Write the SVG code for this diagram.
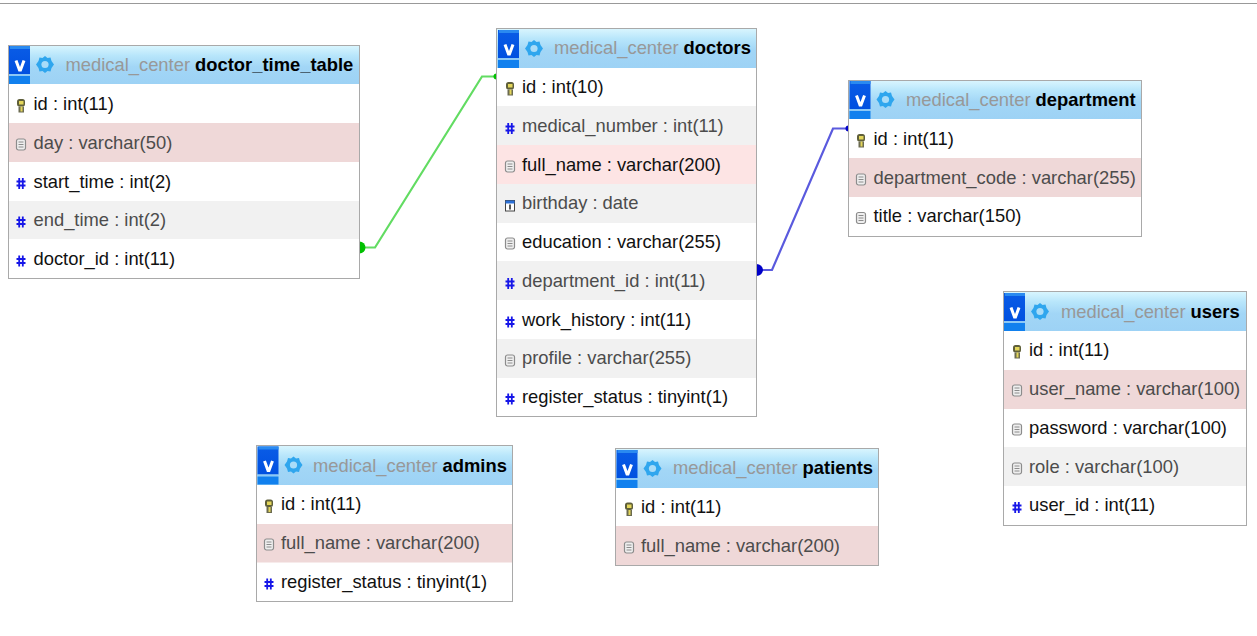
<svg xmlns="http://www.w3.org/2000/svg" width="1257" height="636" viewBox="0 0 1257 636">
<style>
text{font-family:"Liberation Sans",Arial,sans-serif;font-size:18.36px;fill:#111}
.box{fill:#fff;stroke:#a9a9a9;stroke-width:1}
.hd{fill:url(#hg)}
.db{fill:#989898}
.nm{font-weight:bold;fill:#000}
.dim{fill:#4c4c4c}
.pink{fill:#efd8d8}
.rose{fill:#fde4e4}
.grey{fill:#f1f1f1}
.lnk{fill:none;stroke-width:2.200}
</style>
<defs>
<linearGradient id="hg" x1="0" y1="0" x2="0" y2="1"><stop offset="0" stop-color="#d8f5fe"/><stop offset=".25" stop-color="#b8e6fb"/><stop offset=".55" stop-color="#a2d6f6"/><stop offset="1" stop-color="#9dd2f5"/></linearGradient>
<linearGradient id="vg" x1="0" y1="0" x2="0" y2="1"><stop offset="0" stop-color="#0a5ce6"/><stop offset="1" stop-color="#0050e0"/></linearGradient>
<g id="hicons">
<rect x="0" y="1" width="21" height="28" fill="url(#vg)"/>
<rect x="1" y="1" width="20" height="3" fill="#2a8af0"/>
<rect x="0" y="29" width="21" height="2" fill="#8cc8f5"/>
<rect x="0" y="31" width="21" height="8" fill="#1180ee"/>
<path d="M7 15.500l3.500 9.500h1l3.500-9.500" fill="none" stroke="#fff" stroke-width="3"/>
<polygon points="36,11 38.500,13 41.500,12.500 42.500,16 45,19.500 42.500,23 41.500,26.500 38.500,26 36,28 33.500,26 30.500,26.500 29.500,23 27,19.500 29.500,16 30.500,12.500 33.500,13" fill="#2fa6ee"/>
<circle cx="36" cy="19.500" r="3.600" fill="#a9dcf8"/>
</g>
<g id="key"><rect x="-4" y="-6.500" width="8" height="7.500" rx="2.500" fill="#5f5f3a"/><rect x="-2" y="-4.500" width="4.500" height="3.500" fill="#e3d65a"/><rect x="-2.500" y="1" width="5.500" height="6" fill="#6b6b50"/><rect x="-0.500" y="1" width="2" height="5" fill="#e3d65a"/></g>
<g id="txt"><rect x="-4.500" y="-5.500" width="9" height="11" rx="2" fill="#efefef" stroke="#8c8c8c" stroke-width="1.200"/><path d="M-2.500 -2.500h5M-2.500 0h5M-2.500 2.500h5" stroke="#8c8c8c" stroke-width="1"/></g>
<g id="num"><path d="M-4.500 -2h9M-4.500 2h9M-1.800 -5.500v11M1.800 -5.500v11" stroke="#1616e8" stroke-width="1.800" fill="none"/></g>
<g id="cal"><rect x="-4.500" y="-5" width="9" height="10.500" fill="#fff" stroke="#444" stroke-width="1"/><rect x="-4.500" y="-5" width="9" height="3" fill="#2b6fd6"/><path d="M0 -1v5" stroke="#222" stroke-width="1.500"/></g>
</defs>
<rect width="1257" height="636" fill="#fff"/>
<rect x="0" y="3" width="1257" height="1" fill="#999"/>

<g id="connectors">
<path class="lnk" d="M362 247.500H375L482 76.500H496" stroke="#62dc62"/>
<path d="M359.500 241.500a6 6 0 0 1 0 12z" fill="#00c000"/>
<path class="lnk" d="M759 270H772L833 128.500H848" stroke="#5a5ade"/>
<path d="M756.500 264a6.500 6 0 0 1 0 12z" fill="#0000c8"/>
<path d="M848.500 125.500a3 3 0 0 0 0 6z" fill="#0000c8"/>
<path d="M496.500 73.500a3 3 0 0 0 0 6z" fill="#00c000"/>
</g>

<g id="doctor_time_table">
<rect class="box" x="8.500" y="45.500" width="351" height="233"/>
<rect class="hd" x="9" y="46" width="350" height="38"/>
<use href="#hicons" x="9" y="45"/>
<text x="65.500" y="71"><tspan class="db">medical_center</tspan> <tspan class="nm">doctor_time_table</tspan></text>
<rect class="pink" x="9" y="123" width="350" height="39"/>
<rect class="grey" x="9" y="201" width="350" height="38"/>
<use href="#key" x="21" y="105.500"/><text x="33.500" y="110">id : int(11)</text>
<use href="#txt" x="21" y="144.500"/><text class="dim" x="33.500" y="149">day : varchar(50)</text>
<use href="#num" x="21" y="183.500"/><text x="33.500" y="188">start_time : int(2)</text>
<use href="#num" x="21" y="222"/><text class="dim" x="33.500" y="226">end_time : int(2)</text>
<use href="#num" x="21" y="261"/><text x="33.500" y="265">doctor_id : int(11)</text>
</g>

<g id="doctors">
<rect class="box" x="496.500" y="28.500" width="260" height="388"/>
<rect class="hd" x="497" y="29" width="259" height="39"/>
<use href="#hicons" x="498" y="29"/>
<text x="554" y="54"><tspan class="db">medical_center</tspan> <tspan class="nm">doctors</tspan></text>
<rect class="grey" x="497" y="106" width="259" height="39"/>
<rect class="rose" x="497" y="145" width="259" height="39"/>
<rect class="grey" x="497" y="184" width="259" height="39"/>
<rect class="grey" x="497" y="261" width="259" height="39"/>
<rect class="grey" x="497" y="339" width="259" height="39"/>
<use href="#key" x="510" y="88.500"/><text x="522" y="93">id : int(10)</text>
<use href="#num" x="510" y="128.500"/><text class="dim" x="522" y="132">medical_number : int(11)</text>
<use href="#txt" x="510" y="166.500"/><text x="522" y="171">full_name : varchar(200)</text>
<use href="#cal" x="510" y="205.500"/><text class="dim" x="522" y="209">birthday : date</text>
<use href="#txt" x="510" y="243.500"/><text x="522" y="248">education : varchar(255)</text>
<use href="#num" x="510" y="283.500"/><text class="dim" x="522" y="287">department_id : int(11)</text>
<use href="#num" x="510" y="322"/><text x="522" y="326">work_history : int(11)</text>
<use href="#txt" x="510" y="360.500"/><text class="dim" x="522" y="364">profile : varchar(255)</text>
<use href="#num" x="510" y="399"/><text x="522" y="403">register_status : tinyint(1)</text>
</g>

<g id="department">
<rect class="box" x="848.500" y="80.500" width="293" height="156"/>
<rect class="hd" x="849" y="81" width="292" height="38"/>
<use href="#hicons" x="849.500" y="80"/>
<text x="906" y="106"><tspan class="db">medical_center</tspan> <tspan class="nm">department</tspan></text>
<rect class="pink" x="849" y="158" width="292" height="39"/>
<use href="#key" x="861" y="140.500"/><text x="873.500" y="145">id : int(11)</text>
<use href="#txt" x="861" y="179.500"/><text class="dim" x="873.500" y="184">department_code : varchar(255)</text>
<use href="#txt" x="861" y="218"/><text x="873.500" y="222">title : varchar(150)</text>
</g>

<g id="users">
<rect class="box" x="1003.500" y="291.500" width="243" height="234"/>
<rect class="hd" x="1004" y="292" width="242" height="39"/>
<use href="#hicons" x="1004" y="292"/>
<text x="1061" y="318"><tspan class="db">medical_center</tspan> <tspan class="nm">users</tspan></text>
<rect class="pink" x="1004" y="370" width="242" height="39"/>
<rect class="grey" x="1004" y="447" width="242" height="39"/>
<use href="#key" x="1017" y="351.500"/><text x="1029" y="356">id : int(11)</text>
<use href="#txt" x="1017" y="390.500"/><text class="dim" x="1029" y="395">user_name : varchar(100)</text>
<use href="#txt" x="1017" y="429.500"/><text x="1029" y="434">password : varchar(100)</text>
<use href="#txt" x="1017" y="468.500"/><text class="dim" x="1029" y="473">role : varchar(100)</text>
<use href="#num" x="1017" y="507.500"/><text x="1029" y="511">user_id : int(11)</text>
</g>

<g id="admins">
<rect class="box" x="256.500" y="445.500" width="256" height="156"/>
<rect class="hd" x="257" y="446" width="255" height="39"/>
<use href="#hicons" x="257.500" y="445.500"/>
<text x="313" y="472"><tspan class="db">medical_center</tspan> <tspan class="nm">admins</tspan></text>
<rect class="pink" x="257" y="524" width="255" height="38.500"/>
<use href="#key" x="269" y="506"/><text x="281" y="510">id : int(11)</text>
<use href="#txt" x="269" y="544.500"/><text class="dim" x="281" y="549">full_name : varchar(200)</text>
<use href="#num" x="269" y="584"/><text x="281" y="588">register_status : tinyint(1)</text>
</g>

<g id="patients">
<rect class="box" x="615.500" y="448.500" width="263" height="117"/>
<rect class="hd" x="616" y="449" width="262" height="39"/>
<use href="#hicons" x="616.500" y="449"/>
<text x="673" y="474"><tspan class="db">medical_center</tspan> <tspan class="nm">patients</tspan></text>
<rect class="pink" x="616" y="526" width="262" height="39"/>
<use href="#key" x="629" y="509"/><text x="641" y="513">id : int(11)</text>
<use href="#txt" x="629" y="547.500"/><text class="dim" x="641" y="552">full_name : varchar(200)</text>
</g>
</svg>
